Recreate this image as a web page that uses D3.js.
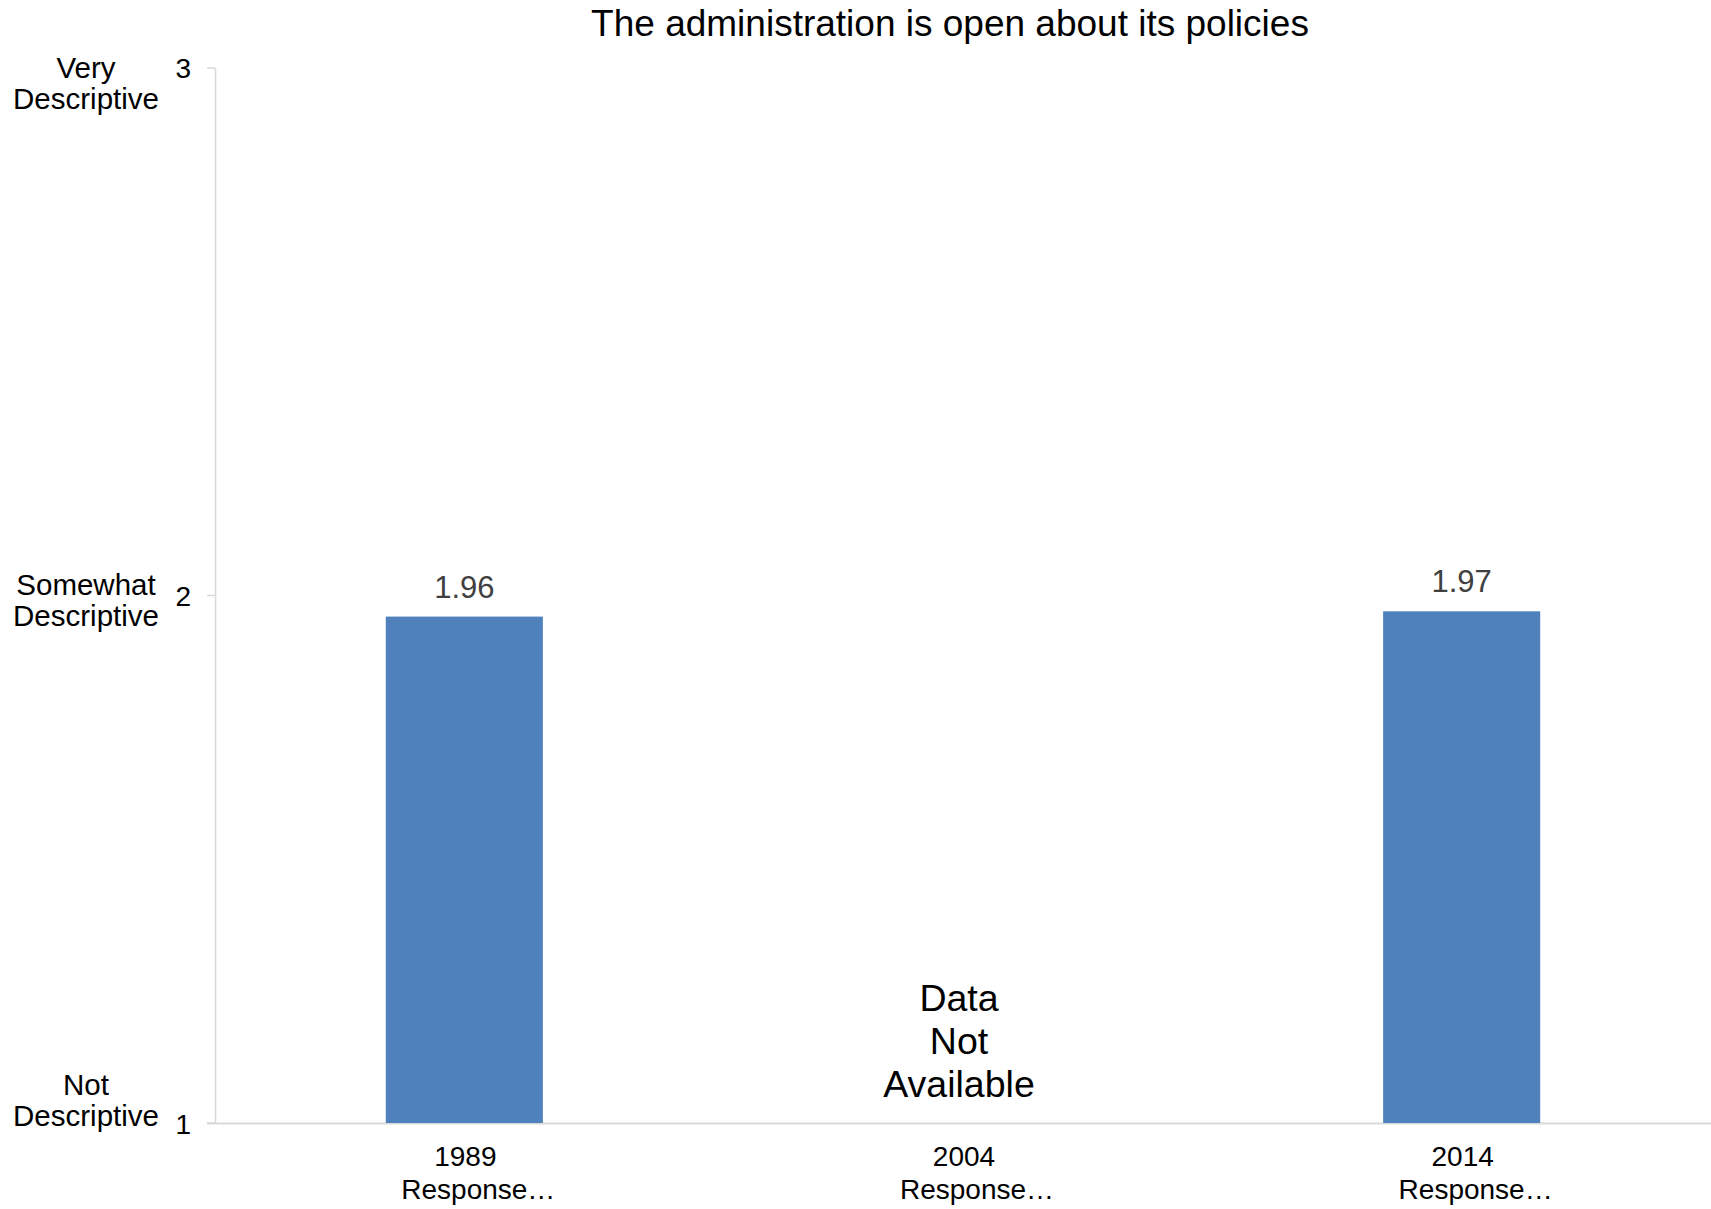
<!DOCTYPE html>
<html>
<head>
<meta charset="utf-8">
<script src="https://cdn.jsdelivr.net/npm/d3@7"></script>
<style>
  body { margin: 0; background: #fff; }
  svg { display: block; font-family: "Liberation Sans", Arial, sans-serif; }
</style>
</head>
<body>
<div id="chart"></div>
<script>
// data
var years = ["1989", "2004", "2014"]
var values = [1.96, null, 1.97]
var yTicks = [1, 2, 3]
var yTickLabels = [["Not", "Descriptive"], ["Somewhat", "Descriptive"], ["Very", "Descriptive"]]
var missingText = ["Data", "Not", "Available"]
var title = "The administration is open about its policies"

var width = 1711, height = 1209
var plotLeft = 215, plotRight = 1711, plotTop = 68, plotBottom = 1123

var svg = d3.select("#chart").append("svg")
    .attr("width", width)
    .attr("height", height)

var x = d3.scaleBand()
    .domain(years)
    .range([plotLeft, plotRight])
    .padding(0)

var y = d3.scaleLinear()
    .domain([1, 3])
    .range([plotBottom, plotTop])

var barW = x.bandwidth() * 0.315

// title
svg.append("text")
    .attr("x", 950)
    .attr("y", 36)
    .attr("text-anchor", "middle")
    .attr("font-size", 37)
    .attr("fill", "#000")
    .text(title)

// y axis line + ticks
svg.append("line")
    .attr("x1", plotLeft + 0.5).attr("x2", plotLeft + 0.5)
    .attr("y1", y(3)).attr("y2", y(1))
    .attr("stroke", "#d9d9d9").attr("stroke-width", 1.5)

svg.selectAll(".ytick")
    .data(yTicks)
    .enter().append("line")
    .attr("class", "ytick")
    .attr("x1", plotLeft - 8).attr("x2", plotLeft)
    .attr("y1", function (d) { return y(d) }).attr("y2", function (d) { return y(d) })
    .attr("stroke", "#d9d9d9").attr("stroke-width", 1.5)

svg.selectAll(".ynum")
    .data(yTicks)
    .enter().append("text")
    .attr("class", "ynum")
    .attr("x", 191)
    .attr("y", function (d) { return d === 1 ? y(d) + 11 : y(d) + 10 })
    .attr("text-anchor", "end")
    .attr("font-size", 28)
    .text(function (d) { return d })

// y category labels (two lines each)
var ylab = svg.selectAll(".ylab")
    .data(yTicks)
    .enter().append("text")
    .attr("class", "ylab")
    .attr("text-anchor", "middle")
    .attr("font-size", 29.5)

ylab.selectAll("tspan")
    .data(function (d, i) { return yTickLabels[i].map(function (t, j) { return { t: t, j: j, v: d } }) })
    .enter().append("tspan")
    .attr("x", 86)
    .attr("y", function (o) {
        var base = o.v === 1 ? y(o.v) - 28 : (o.v === 2 ? y(o.v) - 1 : y(o.v) + 10)
        return base + o.j * 31
    })
    .text(function (o) { return o.t })

// bottom axis
svg.append("line")
    .attr("x1", plotLeft - 8).attr("x2", plotRight)
    .attr("y1", plotBottom + 0.5).attr("y2", plotBottom + 0.5)
    .attr("stroke", "#d9d9d9").attr("stroke-width", 2)

var formatted = years.map(function (yr, i) { return { year: yr, value: values[i] } })

// bars
svg.selectAll(".bar")
    .data(formatted.filter(function (d) { return d.value != null }))
    .enter().append("rect")
    .attr("class", "bar")
    .attr("x", function (d) { return x(d.year) + (x.bandwidth() - barW) / 2 })
    .attr("width", barW)
    .attr("y", function (d) { return y(d.value) })
    .attr("height", function (d) { return plotBottom - y(d.value) })
    .attr("fill", "#4f81bd")

// value labels
svg.selectAll(".vlab")
    .data(formatted.filter(function (d) { return d.value != null }))
    .enter().append("text")
    .attr("class", "vlab")
    .attr("x", function (d) { return x(d.year) + x.bandwidth() / 2 })
    .attr("y", function (d) { return y(d.value) - 19 })
    .attr("text-anchor", "middle")
    .attr("font-size", 31)
    .attr("fill", "#404040")
    .text(function (d) { return d.value.toFixed(2) })

// missing data note
formatted.filter(function (d) { return d.value == null }).forEach(function (d) {
    var t = svg.append("text")
        .attr("text-anchor", "middle")
        .attr("font-size", 37.5)
    missingText.forEach(function (s, j) {
        t.append("tspan")
            .attr("x", x(d.year) + x.bandwidth() / 2 - 4)
            .attr("y", 1011 + j * 43)
            .text(s)
    })
})

// x labels
var xl = svg.selectAll(".xlab")
    .data(years)
    .enter().append("text")
    .attr("class", "xlab")
    .attr("text-anchor", "middle")
    .attr("font-size", 28)

xl.append("tspan")
    .attr("x", function (d) { return x(d) + x.bandwidth() / 2 + 1 })
    .attr("y", 1166)
    .text(function (d) { return d })

xl.append("tspan")
    .attr("x", function (d) { return x(d) + x.bandwidth() / 2 + 14 })
    .attr("y", 1199)
    .text("Response…")
</script>
</body>
</html>
